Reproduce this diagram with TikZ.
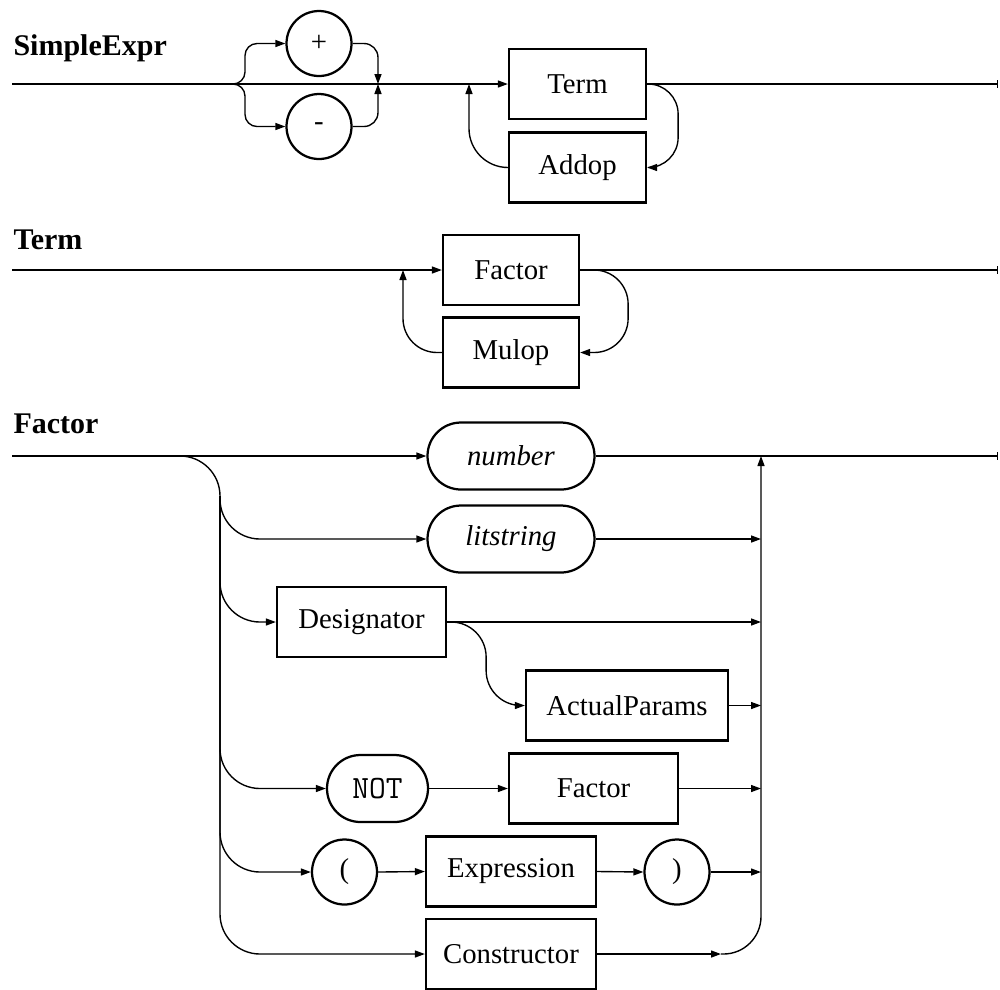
\documentclass[tikz,border=0pt]{standalone}
\usepackage{fontspec}
\setmainfont{Liberation Serif}
\usetikzlibrary{arrows.meta}
\begin{document}
\begin{tikzpicture}[x=0.4pt,y=-0.4pt,
  font=\fontsize{11.5}{13}\selectfont,
  conn/.style={line width=0.55pt},
  arr/.style={conn,-{Triangle[length=4pt,width=2.8pt]}},
  endbar/.style={conn,-{Bar[width=3.2pt]}},
  nt/.style={draw,line width=0.9pt,minimum height=28pt,inner sep=0pt},
  tm/.style={draw,line width=0.9pt,rounded corners=13.4pt,minimum height=26.8pt,inner sep=0pt},
  circ/.style={draw,circle,line width=0.9pt,minimum size=26pt,inner sep=0pt},
  title/.style={anchor=base west,font=\fontsize{12}{14}\selectfont\bfseries,inner sep=0pt}
]
\useasboundingbox (0,0) rectangle (1000,989);

% ---------- SimpleExpr ----------
\node[title] (tSE) at (13,55) {SimpleExpr};
\node[circ] (plus) at (319,43.5) {+};
\node[circ] (minus) at (319,126.5) {-};
\node[nt,minimum width=54.8pt] (term) at (577.5,84) {Term};
\node[nt,minimum width=54.8pt] (addop) at (577.5,167.5) {Addop};
\coordinate (seStart) at (12,84);
\coordinate (seSplit) at (233,84);
\coordinate (seJoin) at (378,84);
\coordinate (seLoop) at (469,84);
\coordinate (seEnd) at (998,84);

\draw[arr] (seStart) -- (term.west);
\draw[endbar] (term.east) -- (seEnd);
\draw[arr,rounded corners=4.8pt] (seSplit) -- ++(12,0) |- (plus.west);
\draw[arr,rounded corners=4.8pt] (seSplit) -- ++(12,0) |- (minus.west);
\draw[arr,rounded corners=5.6pt] (plus.east) -| (seJoin);
\draw[arr,rounded corners=5.6pt] (minus.east) -| (seJoin);
\draw[arr,rounded corners=12pt] (term.east) -- ++(31,0) |- (addop.east);
\draw[arr,rounded corners=15.6pt] (addop.west) -| (seLoop);

% ---------- Term ----------
\node[title] (tT) at (13,249) {Term};
\node[nt,minimum width=54.4pt] (factorT) at (511,270) {Factor};
\node[nt,minimum width=54.4pt] (mulop) at (511,352.5) {Mulop};
\coordinate (tStart) at (12,270);
\coordinate (tLoop) at (403,270);
\coordinate (tEnd) at (998,270);

\draw[arr] (tStart) -- (factorT.west);
\draw[endbar] (factorT.east) -- (tEnd);
\draw[arr,rounded corners=13.6pt] (factorT.east) -- ++(48,0) |- (mulop.east);
\draw[arr,rounded corners=13.6pt] (mulop.west) -| (tLoop);

% ---------- Factor ----------
\node[title] (tF) at (13,433) {Factor};
\node[tm,minimum width=66.8pt] (number) at (511,456) {\itshape number};
\node[tm,minimum width=66.8pt] (litstring) at (511,539) {\itshape litstring};
\node[nt,minimum width=67.6pt] (designator) at (361.5,622) {Designator};
\node[nt,minimum width=80.8pt] (actual) at (627,705.5) {ActualParams};
\node[tm,minimum width=40.4pt] (not) at (377.5,788.5) {\fontsize{13}{15}\selectfont\ttfamily NOT};
\node[nt,minimum width=67.6pt] (factorF) at (593.5,788.5) {Factor};
\node[circ] (lpar) at (344.5,872) {(};
\node[nt,minimum width=68pt] (expr) at (511,871.5) {Expression};
\node[circ] (rpar) at (677,872) {)};
\node[nt,minimum width=68pt] (constructor) at (511,954) {Constructor};

\coordinate (fStart) at (12,456);
\coordinate (fSplit) at (180,456);
\coordinate (trT) at (220,496);
\coordinate (trB) at (220,954);
\coordinate (col) at (761,456);
\coordinate (cArr) at (721,954);
\coordinate (fEnd) at (998,456);

\draw[arr] (fStart) -- (number.west);
\draw[endbar] (number.east) -- (fEnd);
\draw[arr,rounded corners=16pt] (fSplit) -| (trB) -- (constructor.west);
\draw[arr,rounded corners=16pt] (trT) |- (litstring.west);
\draw[arr,rounded corners=16pt] (trT) |- (designator.west);
\draw[arr,rounded corners=16pt] (trT) |- (not.west);
\draw[arr,rounded corners=16pt] (trT) |- (lpar.west);

\draw[arr] (litstring.east) -- (litstring.east -| col);
\draw[arr] (designator.east) -- (designator.east -| col);
\draw[arr,rounded corners=14pt] (designator.east) -- ++(39,0) |- (actual.west);
\draw[arr] (actual.east) -- (actual.east -| col);
\draw[arr] (not.east) -- (factorF.west);
\draw[arr] (factorF.east) -- (factorF.east -| col);
\draw[arr] (lpar.east) -- (expr.west);
\draw[arr] (expr.east) -- (rpar.west);
\draw[arr] (rpar.east) -- (rpar.east -| col);
\draw[arr] (constructor.east) -- (cArr);
\draw[arr,rounded corners=15pt] (cArr) -| (col);
\end{tikzpicture}
\end{document}
